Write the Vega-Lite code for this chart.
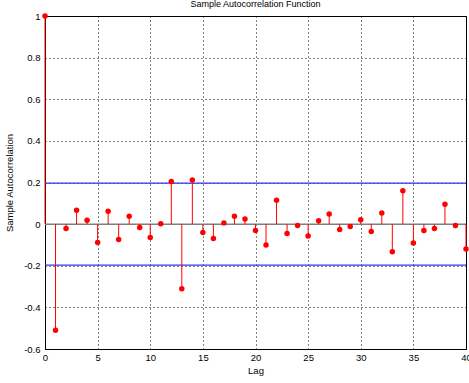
{
  "$schema": "https://vega.github.io/schema/vega-lite/v6.json",
  "width": 421,
  "height": 333,
  "autosize": {"type": "none"},
  "padding": {"left": 45, "top": 16, "right": 3, "bottom": 34},
  "background": "white",
  "title": {"text": "Sample Autocorrelation Function", "font": "Liberation Sans", "fontSize": 9, "fontWeight": "normal", "color": "black", "offset": 2, "anchor": "middle"},
  "config": {
    "view": {"stroke": "black", "strokeWidth": 1},
    "axis": {"labelFont": "Liberation Sans", "labelFontSize": 9.5, "labelColor": "black", "titleFont": "Liberation Sans", "titleFontSize": 9.5, "titleFontWeight": "normal", "titleColor": "black", "domainColor": "black", "tickColor": "black", "gridColor": "black", "gridDash": [1, 3], "gridOpacity": 1, "gridWidth": 1}
  },
  "layer": [
    {
      "data": {"values": [{"a": 1}]},
      "mark": {"type": "rule", "color": "#808080", "strokeWidth": 1.5},
      "encoding": {
        "y": {"datum": 0, "type": "quantitative", "scale": {"domain": [-0.6, 1]},
          "axis": {"values": [-0.6, -0.4, -0.2, 0, 0.2, 0.4, 0.6, 0.8, 1], "labelExpr": "datum.value", "title": "Sample Autocorrelation", "grid": true, "ticks": false, "labelPadding": 5, "titlePadding": 9, "domain": false}}
      }
    },
    {
      "data": {"values": [{"bound": 0.197}, {"bound": -0.197}]},
      "mark": {"type": "rule", "color": "#3333ff", "strokeWidth": 1.2},
      "encoding": {"y": {"field": "bound", "type": "quantitative"}}
    },
    {
      "data": {"values": [
        {"lag": 0, "acf": 1}, {"lag": 1, "acf": -0.51}, {"lag": 2, "acf": -0.021}, {"lag": 3, "acf": 0.067},
        {"lag": 4, "acf": 0.019}, {"lag": 5, "acf": -0.088}, {"lag": 6, "acf": 0.062}, {"lag": 7, "acf": -0.074},
        {"lag": 8, "acf": 0.038}, {"lag": 9, "acf": -0.016}, {"lag": 10, "acf": -0.064}, {"lag": 11, "acf": 0.002},
        {"lag": 12, "acf": 0.205}, {"lag": 13, "acf": -0.311}, {"lag": 14, "acf": 0.212}, {"lag": 15, "acf": -0.04},
        {"lag": 16, "acf": -0.069}, {"lag": 17, "acf": 0.006}, {"lag": 18, "acf": 0.038}, {"lag": 19, "acf": 0.025},
        {"lag": 20, "acf": -0.031}, {"lag": 21, "acf": -0.1}, {"lag": 22, "acf": 0.115}, {"lag": 23, "acf": -0.045},
        {"lag": 24, "acf": -0.007}, {"lag": 25, "acf": -0.057}, {"lag": 26, "acf": 0.016}, {"lag": 27, "acf": 0.049},
        {"lag": 28, "acf": -0.026}, {"lag": 29, "acf": -0.011}, {"lag": 30, "acf": 0.021}, {"lag": 31, "acf": -0.035},
        {"lag": 32, "acf": 0.053}, {"lag": 33, "acf": -0.133}, {"lag": 34, "acf": 0.16}, {"lag": 35, "acf": -0.091},
        {"lag": 36, "acf": -0.031}, {"lag": 37, "acf": -0.021}, {"lag": 38, "acf": 0.096}, {"lag": 39, "acf": -0.007},
        {"lag": 40, "acf": -0.12}
      ]},
      "encoding": {
        "x": {"field": "lag", "type": "quantitative", "scale": {"domain": [0, 40], "nice": false},
          "axis": {"values": [0, 5, 10, 15, 20, 25, 30, 35, 40], "title": "Lag", "grid": true, "ticks": false, "labelPadding": 3, "titlePadding": 4, "domain": false, "labelFlush": false}}
      },
      "layer": [
        {"mark": {"type": "rule", "color": "#ff0000", "strokeWidth": 1}, "encoding": {"y": {"field": "acf", "type": "quantitative"}, "y2": {"datum": 0}}},
        {"mark": {"type": "circle", "color": "#ff0000", "opacity": 1, "size": 30}, "encoding": {"y": {"field": "acf", "type": "quantitative"}}}
      ]
    }
  ]
}
